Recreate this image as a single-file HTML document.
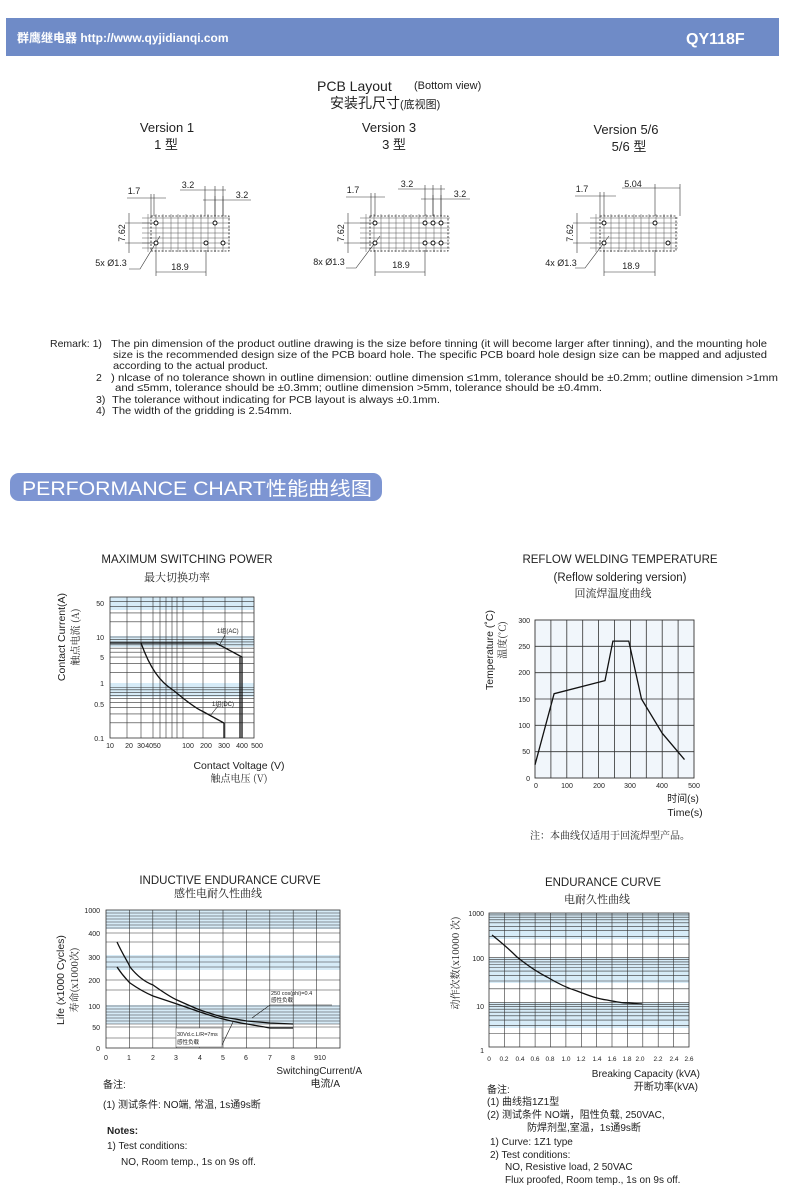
<!DOCTYPE html>
<html><head><meta charset="utf-8"><style>
html,body{margin:0;padding:0;background:#fff}
svg{display:block}
text{font-family:"Liberation Sans","Noto Sans CJK SC",sans-serif;fill:#222}
.cj{font-family:"Noto Serif CJK SC","Liberation Serif",serif}
.g{stroke:#333;stroke-width:.6;fill:none}
.gl{stroke:#555;stroke-width:.5;fill:none}
.c{stroke:#111;stroke-width:1.3;fill:none}
.d{stroke:#333;stroke-width:.6;fill:none}
.dash{stroke:#222;stroke-width:.8;stroke-dasharray:2,1.5;fill:none}
</style></head><body>
<svg width="790" height="1198" viewBox="0 0 790 1198" xmlns="http://www.w3.org/2000/svg">
<!-- header -->
<rect x="6" y="18" width="773" height="38" fill="#6f8bc7"/>
<text x="17" y="42" font-size="12" font-weight="bold" style="fill:#fff">群鹰继电器  http://www.qyjidianqi.com</text>
<text x="686" y="44" font-size="16" font-weight="bold" style="fill:#fff">QY118F</text>

<!-- PCB titles -->
<text x="317" y="91" font-size="14">PCB Layout</text>
<text x="414" y="89" font-size="11">(Bottom view)</text>
<text x="330" y="108" font-size="14">安装孔尺寸<tspan font-size="11">(底视图)</tspan></text>
<text x="167" y="132" font-size="13" text-anchor="middle">Version 1</text>
<text x="166" y="149" font-size="13" text-anchor="middle">1 型</text>
<text x="389" y="132" font-size="13" text-anchor="middle">Version 3</text>
<text x="394" y="149" font-size="13" text-anchor="middle">3 型</text>
<text x="626" y="134" font-size="13" text-anchor="middle">Version 5/6</text>
<text x="629" y="151" font-size="13" text-anchor="middle">5/6 型</text>

<!-- PCB diagram generic grids -->
<g id="pcb1">
<g class="gl">
<path d="M142 218H230M142 223H230M142 228H230M142 233H230M142 238H230M142 243H230M142 248H230"/>
<path d="M148 214V252M156 214V252M163 214V252M171 214V252M178 214V252M186 214V252M193 214V252M201 214V252M208 214V252M215 214V252M223 214V252"/>
</g>
<rect x="151" y="216" width="78" height="35" class="dash"/>
</g>
<g class="d">
<path d="M129 213V253M125 223H156M125 243H156"/>
<path d="M127 198H166M151 194V216M154 194V216"/>
<path d="M180 190H226M205 186V216M215 186V216M223 186V216"/>
<path d="M203 200H251M215 196V216M223 196V216"/>
<path d="M156 250V276M206 250V276M156 272H206"/>
<path d="M129 269H140L160 236"/>
</g>
<g fill="#fff" stroke="#111" stroke-width="1">
<circle cx="156" cy="223" r="2"/><circle cx="215" cy="223" r="2"/><circle cx="206" cy="243" r="2"/><circle cx="223" cy="243" r="2"/><circle cx="156" cy="243" r="2"/>
</g>
<text x="134" y="194" font-size="9" text-anchor="middle">1.7</text>
<text x="188" y="188" font-size="9" text-anchor="middle">3.2</text>
<text x="242" y="198" font-size="9" text-anchor="middle">3.2</text>
<text x="111" y="266" font-size="9" text-anchor="middle">5x Ø1.3</text>
<text x="180" y="270" font-size="9" text-anchor="middle">18.9</text>
<text transform="translate(125,233) rotate(-90)" font-size="9" text-anchor="middle">7.62</text>

<!-- V3 -->
<g class="gl">
<path d="M360 218H450M360 223H450M360 228H450M360 233H450M360 238H450M360 243H450M360 248H450"/>
<path d="M366 214V252M374 214V252M381 214V252M389 214V252M396 214V252M404 214V252M411 214V252M419 214V252M426 214V252M434 214V252M441 214V252"/>
</g>
<rect x="370" y="216" width="78" height="35" class="dash"/>
<g class="d">
<path d="M348 213V253M344 223H375M344 243H375"/>
<path d="M346 197H385M371 193V216M375 193V216"/>
<path d="M398 189H445M425 185V216M433 185V216M441 185V216"/>
<path d="M421 199H470M433 195V216M441 195V216"/>
<path d="M375 250V276M425 250V276M375 272H425"/>
<path d="M346 268H356L380 236"/>
</g>
<g fill="#fff" stroke="#111" stroke-width="1">
<circle cx="375" cy="223" r="2"/><circle cx="425" cy="223" r="2"/><circle cx="433" cy="223" r="2"/><circle cx="441" cy="223" r="2"/>
<circle cx="375" cy="243" r="2"/><circle cx="425" cy="243" r="2"/><circle cx="433" cy="243" r="2"/><circle cx="441" cy="243" r="2"/>
</g>
<text x="353" y="193" font-size="9" text-anchor="middle">1.7</text>
<text x="407" y="187" font-size="9" text-anchor="middle">3.2</text>
<text x="460" y="197" font-size="9" text-anchor="middle">3.2</text>
<text x="329" y="265" font-size="9" text-anchor="middle">8x Ø1.3</text>
<text x="401" y="268" font-size="9" text-anchor="middle">18.9</text>
<text transform="translate(344,233) rotate(-90)" font-size="9" text-anchor="middle">7.62</text>

<!-- V5/6 -->
<g class="gl">
<path d="M590 218H678M590 223H678M590 228H678M590 233H678M590 238H678M590 243H678M590 248H678"/>
<path d="M596 214V252M604 214V252M611 214V252M619 214V252M626 214V252M634 214V252M641 214V252M649 214V252M656 214V252M664 214V252M671 214V252"/>
</g>
<rect x="600" y="216" width="76" height="35" class="dash"/>
<g class="d">
<path d="M577 213V253M573 223H604M573 243H604"/>
<path d="M575 196H616M600 192V216M604 192V216"/>
<path d="M622 188H680M655 184V216M680 184V216"/>
<path d="M604 250V276M655 250V276M604 272H655"/>
<path d="M575 268H585L609 236"/>
</g>
<g fill="#fff" stroke="#111" stroke-width="1">
<circle cx="604" cy="223" r="2"/><circle cx="655" cy="223" r="2"/><circle cx="668" cy="243" r="2"/><circle cx="604" cy="243" r="2"/>
</g>
<text x="582" y="192" font-size="9" text-anchor="middle">1.7</text>
<text x="633" y="187" font-size="9" text-anchor="middle">5.04</text>
<text x="561" y="266" font-size="9" text-anchor="middle">4x Ø1.3</text>
<text x="631" y="269" font-size="9" text-anchor="middle">18.9</text>
<text transform="translate(573,233) rotate(-90)" font-size="9" text-anchor="middle">7.62</text>

<!-- Remarks -->
<g font-size="10.5">
<text x="50" y="347">Remark: 1)</text>
<text x="111" y="347" textLength="656" lengthAdjust="spacingAndGlyphs">The pin dimension of the product outline drawing is the size before tinning (it will become larger after tinning), and the mounting hole</text>
<text x="113" y="358" textLength="654" lengthAdjust="spacingAndGlyphs">size is the recommended design size of the PCB board hole. The specific PCB board hole design size can be mapped and adjusted</text>
<text x="113" y="369" textLength="155" lengthAdjust="spacingAndGlyphs">according to the actual product.</text>
<text x="96" y="381">2</text>
<text x="111" y="381" textLength="667" lengthAdjust="spacingAndGlyphs">) nlcase of no tolerance shown in outline dimension: outline dimension ≤1mm, tolerance should be ±0.2mm; outline dimension &gt;1mm</text>
<text x="115" y="391" textLength="487" lengthAdjust="spacingAndGlyphs">and ≤5mm, tolerance should be ±0.3mm; outline dimension &gt;5mm, tolerance should be ±0.4mm.</text>
<text x="96" y="403">3)</text>
<text x="112" y="403" textLength="328" lengthAdjust="spacingAndGlyphs">The tolerance without indicating for PCB layout  is always ±0.1mm.</text>
<text x="96" y="414">4)</text>
<text x="112" y="414" textLength="180" lengthAdjust="spacingAndGlyphs">The width of the gridding is 2.54mm.</text>
</g>

<!-- banner -->
<rect x="10" y="473" width="372" height="28" rx="9" fill="#7d95d2"/>
<text x="22" y="495" font-size="19" textLength="350" lengthAdjust="spacingAndGlyphs" style="fill:#fff">PERFORMANCE CHART性能曲线图</text>

<!-- MAX SWITCHING POWER -->
<text x="187" y="563" font-size="11.5" text-anchor="middle">MAXIMUM SWITCHING POWER</text>
<text x="177" y="581" font-size="11" text-anchor="middle" class="cj">最大切换功率</text>
<rect x="110" y="597" width="144" height="141" fill="#fff"/>
<g fill="#d6ebf7">
<rect x="110" y="597" width="144" height="13"/><rect x="110" y="636" width="144" height="11"/><rect x="110" y="683" width="144" height="14"/>
</g>
<g class="g">
<path d="M110 722.8H254M110 713.9H254M110 707.6H254M110 702.7H254M110 698.7H254M110 695.3H254M110 692.4H254M110 689.8H254M110 687.5H254M110 672.3H254M110 663.4H254M110 657.1H254M110 652.2H254M110 648.2H254M110 644.8H254M110 641.9H254M110 639.3H254M110 637H254M110 621.8H254M110 612.9H254M110 606.6H254M110 601.7H254"/>
<path d="M127 597V738M141 597V738M153 597V738M160 597V738M166 597V738M172 597V738M177 597V738M183 597V738M203 597V738M225 597V738M242 597V738"/>
</g>
<rect x="110" y="597" width="144" height="141" fill="none" stroke="#333" stroke-width=".8"/>
<path class="c" d="M110 643H216L242 657V738M240 657V738"/>
<path class="c" d="M141 643C150 668 160 682 173 690C185 700 195 708 202 711L224 723V738"/>
<path d="M219 646L225 635M210 716L218 706" stroke="#111" stroke-width=".6"/>
<text x="217" y="633" font-size="6">1组(AC)</text>
<text x="212" y="706" font-size="6">1组(DC)</text>
<g font-size="7" text-anchor="end"><text x="104" y="606">50</text><text x="104" y="640">10</text><text x="104" y="660">5</text><text x="104" y="686">1</text><text x="104" y="707">0.5</text><text x="104" y="741">0.1</text></g>
<g font-size="7" text-anchor="middle"><text x="110" y="748">10</text><text x="129" y="748">20</text><text x="141" y="748">30</text><text x="153" y="748">4050</text><text x="188" y="748">100</text><text x="206" y="748">200</text><text x="224" y="748">300</text><text x="242" y="748">400</text><text x="257" y="748">500</text></g>
<text transform="translate(65,637) rotate(-90)" font-size="10.5" text-anchor="middle">Contact Current(A)</text>
<text transform="translate(79,637) rotate(-90)" font-size="10" text-anchor="middle" class="cj">触点电流 (A)</text>
<text x="239" y="769" font-size="10.5" text-anchor="middle">Contact Voltage (V)</text>
<text x="239" y="782" font-size="10" text-anchor="middle" class="cj">触点电压 (V)</text>

<!-- REFLOW -->
<text x="620" y="563" font-size="11.5" text-anchor="middle">REFLOW WELDING TEMPERATURE</text>
<text x="620" y="581" font-size="11.5" text-anchor="middle">(Reflow soldering version)</text>
<text x="613" y="597" font-size="11" text-anchor="middle" class="cj">回流焊温度曲线</text>
<rect x="535" y="620" width="159" height="158" fill="#f1f6fb"/>
<g class="g" style="stroke-width:.8">
<path d="M550.9 620V778M566.8 620V778M582.7 620V778M598.6 620V778M614.5 620V778M630.4 620V778M646.3 620V778M662.2 620V778M678.1 620V778"/>
<path d="M535 751.7H694M535 725.3H694M535 699H694M535 672.7H694M535 646.3H694"/>
</g>
<rect x="535" y="620" width="159" height="158" fill="none" stroke="#333" stroke-width=".9"/>
<path class="c" d="M535 764.8L554.1 693.7L605 680.6L612.9 641.1L628.8 641.1L641.5 699L662.2 733.2L684.5 759.6"/>
<g font-size="7" text-anchor="end"><text x="530" y="623">300</text><text x="530" y="649">250</text><text x="530" y="675">200</text><text x="530" y="702">150</text><text x="530" y="728">100</text><text x="530" y="754">50</text><text x="530" y="781">0</text></g>
<g font-size="7" text-anchor="middle"><text x="536" y="788">0</text><text x="567" y="788">100</text><text x="599" y="788">200</text><text x="630" y="788">300</text><text x="662" y="788">400</text><text x="694" y="788">500</text></g>
<text transform="translate(493,650) rotate(-90)" font-size="10.5" text-anchor="middle">Temperature (˚C)</text>
<text transform="translate(506,640) rotate(-90)" font-size="10" text-anchor="middle" class="cj">温度(˚C)</text>
<text x="683" y="802" font-size="10" text-anchor="middle">时间(s)</text>
<text x="685" y="816" font-size="10.5" text-anchor="middle">Time(s)</text>
<text x="610" y="839" font-size="10" text-anchor="middle" class="cj">注：本曲线仅适用于回流焊型产品。</text>

<!-- INDUCTIVE -->
<text x="230" y="884" font-size="11.5" text-anchor="middle">INDUCTIVE ENDURANCE CURVE</text>
<text x="218" y="897" font-size="11" text-anchor="middle" class="cj">感性电耐久性曲线</text>
<rect x="106" y="910" width="234" height="138" fill="#fff"/>
<g fill="#d6ebf7"><rect x="106" y="910" width="234" height="19"/><rect x="106" y="955" width="234" height="15"/><rect x="106" y="1005" width="234" height="19"/></g>
<g class="g">
<path d="M106 913H340M106 916H340M106 919H340M106 922H340M106 925H340M106 928H340M106 933H340M106 942H340M106 957H340M106 962H340M106 967H340M106 980H340M106 990H340M106 1006H340M106 1009H340M106 1012H340M106 1015H340M106 1018H340M106 1021H340M106 1024H340M106 1027H340M106 1038H340"/>
<path d="M129.4 910V1048M152.8 910V1048M176.2 910V1048M199.6 910V1048M223 910V1048M246.4 910V1048M269.8 910V1048M293.2 910V1048M316.6 910V1048"/>
</g>
<rect x="106" y="910" width="234" height="138" fill="none" stroke="#333" stroke-width=".8"/>
<path class="c" d="M117 942C123 955 128 962 130 967C138 977 145 982 153 985C163 992 170 997 177 1000C188 1005 195 1008 200 1010C212 1014 218 1016 223 1017C235 1019 240 1020 247 1021L270 1023L293 1024"/>
<path class="c" d="M117 967C123 976 127 980 130 983C140 990 146 993 153 996L177 1004L200 1012C212 1016 218 1018 223 1019C235 1022 240 1023 247 1024C258 1026 265 1027 270 1028L293 1028"/>
<path d="M252 1018L270 1005H332M222 1045L233 1022" stroke="#111" stroke-width=".6" fill="none"/>
<rect x="176" y="1028" width="46" height="19" fill="#fff" stroke="#555" stroke-width=".5"/>
<text x="271" y="995" font-size="5.5">250 cos(phi)=0.4</text>
<text x="271" y="1002" font-size="5.5">感性负载</text>
<text x="177" y="1036" font-size="5.5">30Vd.c.L/R=7ms</text>
<text x="177" y="1044" font-size="5.5">感性负载</text>
<g font-size="7" text-anchor="end"><text x="100" y="913">1000</text><text x="100" y="936">400</text><text x="100" y="960">300</text><text x="100" y="983">200</text><text x="100" y="1009">100</text><text x="100" y="1030">50</text><text x="100" y="1051">0</text></g>
<g font-size="7" text-anchor="middle"><text x="106" y="1060">0</text><text x="129" y="1060">1</text><text x="153" y="1060">2</text><text x="176" y="1060">3</text><text x="200" y="1060">4</text><text x="223" y="1060">5</text><text x="246" y="1060">6</text><text x="270" y="1060">7</text><text x="293" y="1060">8</text><text x="320" y="1060">910</text></g>
<text transform="translate(64,980) rotate(-90)" font-size="10.5" text-anchor="middle">Life (x1000 Cycles)</text>
<text transform="translate(78,980) rotate(-90)" font-size="10" text-anchor="middle" class="cj">寿命(x1000次)</text>
<text x="362" y="1074" font-size="10" text-anchor="end">SwitchingCurrent/A</text>
<text x="340" y="1087" font-size="10" text-anchor="end">电流/A</text>
<g font-size="10">
<text x="103" y="1088">备注:</text>
<text x="103" y="1108">(1) 测试条件: NO端, 常温, 1s通9s断</text>
<text x="107" y="1134" font-weight="bold">Notes:</text>
<text x="107" y="1149">1) Test conditions:</text>
<text x="121" y="1165">NO, Room temp., 1s on 9s off.</text>
</g>

<!-- ENDURANCE -->
<text x="603" y="886" font-size="11.5" text-anchor="middle">ENDURANCE CURVE</text>
<text x="597" y="903" font-size="11" text-anchor="middle" class="cj">电耐久性曲线</text>
<rect x="489" y="913" width="200" height="134" fill="#fff"/>
<g fill="#d6ebf7"><rect x="489" y="913" width="200" height="26"/><rect x="489" y="958" width="200" height="25"/><rect x="489" y="1003" width="200" height="25"/></g>
<g class="g">
<path d="M489 1033.5H689M489 1025.7H689M489 1020.1H689M489 1015.8H689M489 1012.2H689M489 1009.2H689M489 1006.6H689M489 1004.3H689M489 1002.3H689
M489 988.8H689M489 981H689M489 975.4H689M489 971.1H689M489 967.5H689M489 964.5H689M489 961.9H689M489 959.6H689M489 957.6H689
M489 944.1H689M489 936.3H689M489 930.7H689M489 926.4H689M489 922.8H689M489 919.8H689M489 917.2H689M489 914.9H689"/>
<path d="M504.4 913V1047M519.8 913V1047M535.1 913V1047M550.5 913V1047M565.9 913V1047M581.3 913V1047M596.7 913V1047M612 913V1047M627.4 913V1047M642.8 913V1047M658.2 913V1047M673.6 913V1047"/>
</g>
<rect x="489" y="913" width="200" height="134" fill="none" stroke="#333" stroke-width=".8"/>
<path class="c" d="M492 935C502 943 510 950 517 957C527 965 537 972 547 977C557 983 567 988 577 991C590 996 598 999 607 1000C617 1002 622 1003 627 1003L642 1004"/>
<g font-size="7" text-anchor="end"><text x="484" y="916">1000</text><text x="484" y="961">100</text><text x="484" y="1009">10</text><text x="484" y="1053">1</text></g>
<g font-size="6.5" text-anchor="middle"><text x="489" y="1061">0</text><text x="504" y="1061">0.2</text><text x="520" y="1061">0.4</text><text x="535" y="1061">0.6</text><text x="550" y="1061">0.8</text><text x="566" y="1061">1.0</text><text x="581" y="1061">1.2</text><text x="597" y="1061">1.4</text><text x="612" y="1061">1.6</text><text x="627" y="1061">1.8</text><text x="640" y="1061">2.0</text><text x="658" y="1061">2.2</text><text x="674" y="1061">2.4</text><text x="689" y="1061">2.6</text></g>
<text transform="translate(459,963) rotate(-90)" font-size="10" text-anchor="middle" class="cj">动作次数(x10000 次)</text>
<text x="700" y="1077" font-size="10" text-anchor="end">Breaking  Capacity (kVA)</text>
<text x="698" y="1090" font-size="10" text-anchor="end">开断功率(kVA)</text>
<g font-size="10">
<text x="487" y="1093">备注:</text>
<text x="487" y="1105">(1) 曲线指1Z1型</text>
<text x="487" y="1118">(2) 测试条件  NO端，阻性负载, 250VAC,</text>
<text x="527" y="1131">防焊剂型,室温，1s通9s断</text>
<text x="490" y="1145">1) Curve: 1Z1 type</text>
<text x="490" y="1158">2) Test conditions:</text>
<text x="505" y="1170">NO, Resistive load, 2 50VAC</text>
<text x="505" y="1183">Flux proofed, Room temp., 1s on 9s off.</text>
</g>
</svg>
</body></html>
